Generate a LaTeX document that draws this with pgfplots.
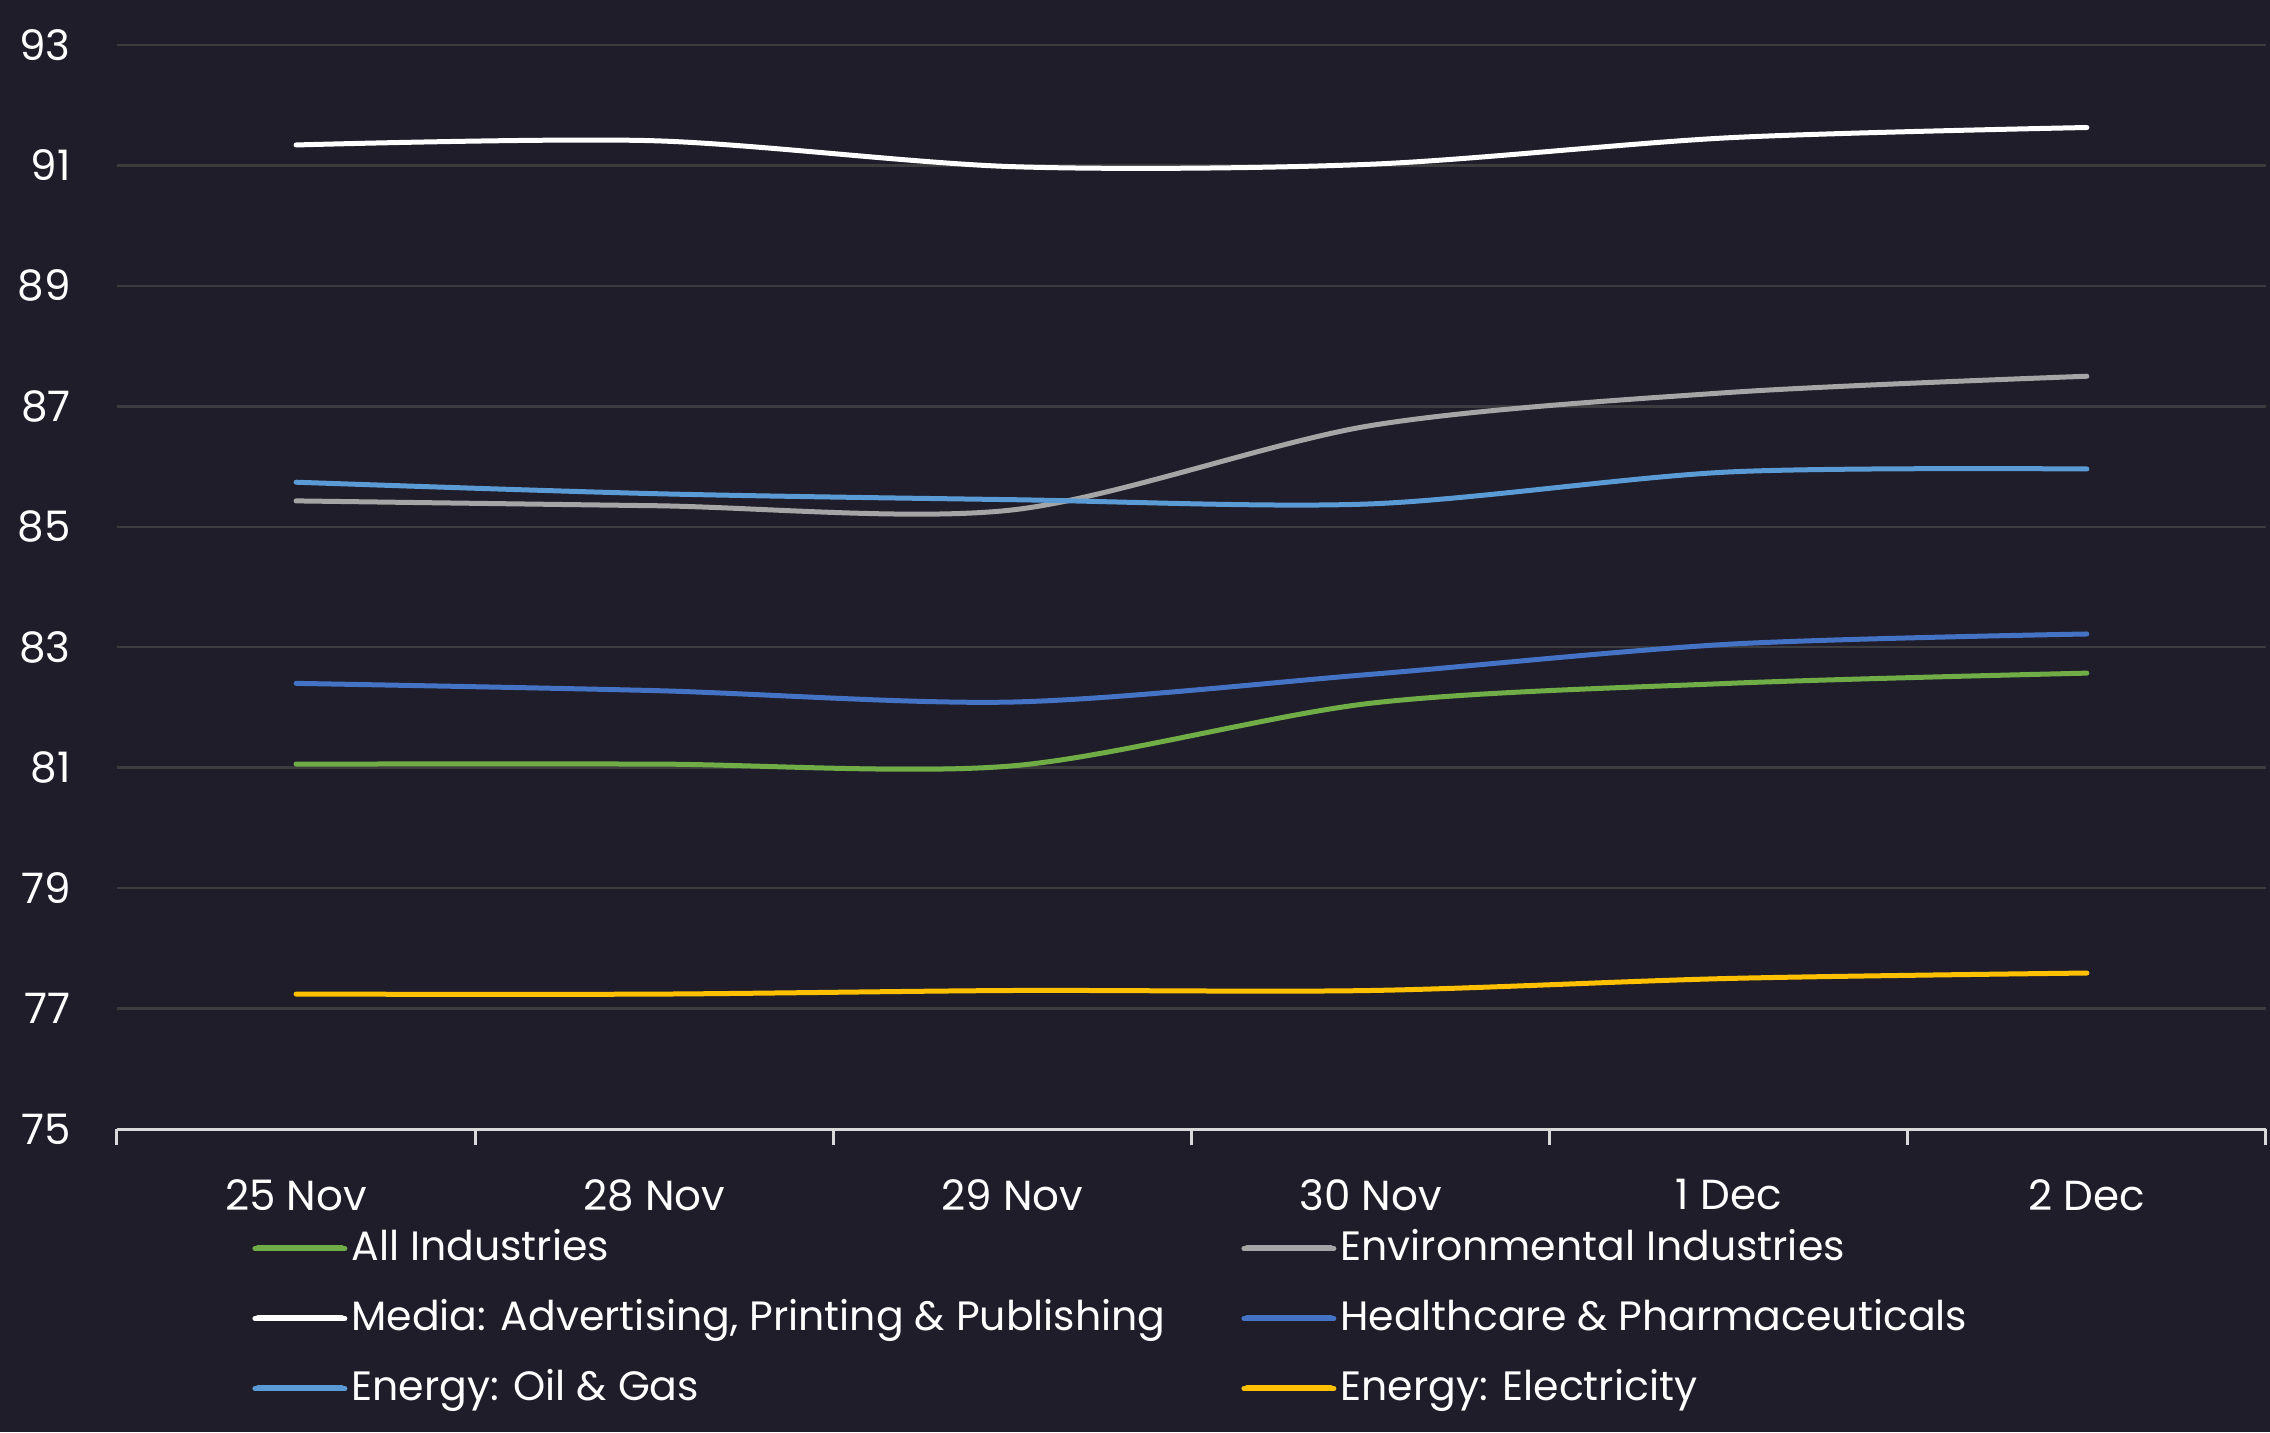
\documentclass[border=0pt]{standalone}
\usepackage{fontspec}
\setmainfont{Poppins}
\usepackage{pgfplots}
\pgfplotsset{compat=1.18}
\usetikzlibrary{backgrounds}

\definecolor{bg}{HTML}{1F1D2A}
\definecolor{gridc}{HTML}{3C3B3D}
\definecolor{axisc}{HTML}{D9D9D9}
\definecolor{cgreen}{HTML}{70AD47}
\definecolor{cgray}{HTML}{A5A5A5}
\definecolor{cwhite}{HTML}{FFFFFF}
\definecolor{cdblue}{HTML}{4472C4}
\definecolor{clblue}{HTML}{5B9BD5}
\definecolor{cyellow}{HTML}{FFC000}

\newcommand{\lent}[1]{\makebox[445pt][l]{#1}}

\begin{document}
\begin{tikzpicture}
\begin{axis}[
    scale only axis,
    width=1074.5pt, height=542pt,
    xmin=-0.5, xmax=5.5,
    ymin=75, ymax=93,
    axis x line*=bottom,
    axis y line*=left,
    y axis line style={draw=none},
    x axis line style={draw=axisc, line width=1.5pt},
    % boundary ticks carry the marks, the categories carry the labels
    xtick={-0.5,0.5,1.5,2.5,3.5,4.5,5.5},
    xticklabels={},
    tick align=outside,
    major tick length=8pt,
    xtick style={draw=axisc, line width=1.5pt},
    extra x ticks={0,1,2,3,4,5},
    extra x tick labels={25 Nov,28 Nov,29 Nov,30 Nov,1 Dec,2 Dec},
    extra x tick style={grid=none, major tick length=0pt,
        tick style={draw=none}},
    ytick={75,77,...,93},
    ytick style={draw=none},
    ymajorgrids,
    grid style={draw=gridc, line width=1.2pt},
    tick label style={font=\fontsize{21}{25}\selectfont, text=white},
    /pgf/number format/assume math mode=true,
    xticklabel style={anchor=north, inner sep=0pt, yshift=-25pt},
    yticklabel style={anchor=east, inner sep=0pt, xshift=-15pt},
    every axis plot/.append style={line width=2.5pt, line cap=round, smooth, tension=0.5},
    legend columns=2,
    legend cell align=left,
    legend style={at={(0,0)}, anchor=north west, xshift=67.5pt, yshift=-51pt,
        draw=none, fill=none, inner sep=0pt, row sep=16pt,
        font=\fontsize{20.5}{24}\selectfont, text=white,
        nodes={inner sep=0pt, text height=14.5pt, text depth=4.5pt},
        /tikz/every odd column/.append style={column sep=2pt}},
    legend image code/.code={\draw[#1, line width=3pt, line cap=round] (1.5pt,1pt) -- (43.5pt,1pt);
        \path (0pt,1pt) -- (45pt,1pt);},
]
\addplot[cgreen] coordinates {(0,81.06) (1,81.06) (2,81.03) (3,82.07) (4,82.40) (5,82.57)};
\addlegendentry{\lent{All Industries}}
\addplot[cgray] coordinates {(0,85.43) (1,85.35) (2,85.28) (3,86.68) (4,87.23) (5,87.50)};
\addlegendentry{\lent{Environmental Industries}}
\addplot[cwhite] coordinates {(0,91.34) (1,91.41) (2,90.98) (3,91.02) (4,91.46) (5,91.63)};
\addlegendentry{\lent{Media: Advertising, Printing \& Publishing}}
\addplot[cdblue] coordinates {(0,82.40) (1,82.28) (2,82.09) (3,82.55) (4,83.05) (5,83.22)};
\addlegendentry{\lent{Healthcare \& Pharmaceuticals}}
\addplot[clblue] coordinates {(0,85.74) (1,85.55) (2,85.45) (3,85.38) (4,85.91) (5,85.96)};
\addlegendentry{\lent{Energy: Oil \& Gas}}
\addplot[cyellow] coordinates {(0,77.24) (1,77.24) (2,77.30) (3,77.30) (4,77.50) (5,77.59)};
\addlegendentry{\lent{Energy: Electricity}}
\end{axis}
\begin{scope}[on background layer]
\fill[bg] (-58.5pt,-151.5pt) rectangle (1076.5pt,564.5pt);
\end{scope}
\pgfresetboundingbox
\useasboundingbox (-58.5pt,-151.5pt) rectangle (1076.5pt,564.5pt);
\end{tikzpicture}
\end{document}
